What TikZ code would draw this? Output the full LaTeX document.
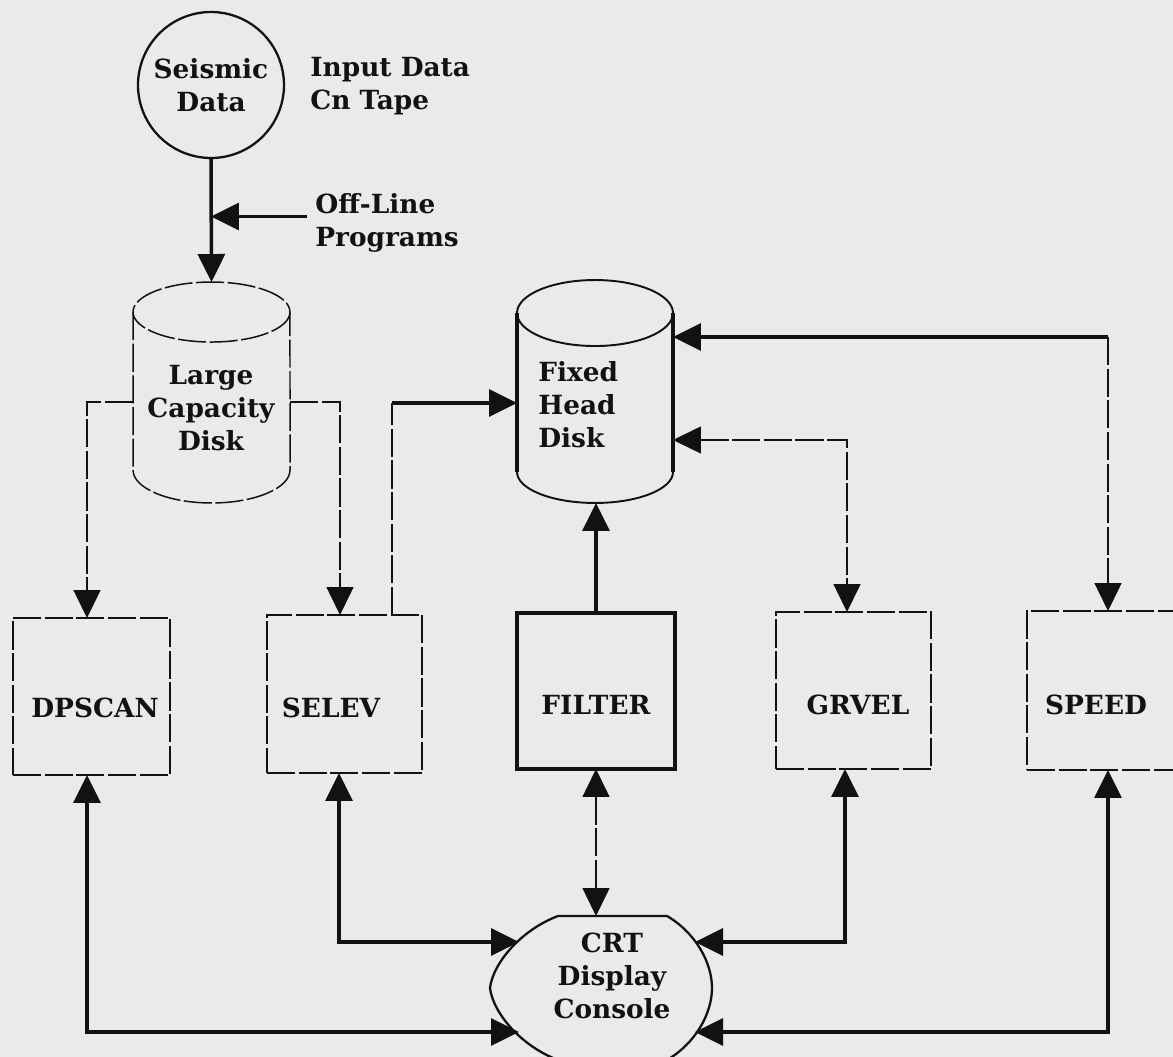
\documentclass[tikz,border=0pt]{standalone}
\usepackage{fontspec}
\setmainfont{DejaVu Serif}
\usetikzlibrary{arrows.meta,calc}
\definecolor{paper}{RGB}{234,234,232}
\definecolor{ink}{RGB}{18,18,18}
\begin{document}
\begin{tikzpicture}[x=0.02cm,y=-0.02cm,
  font=\bfseries\fontsize{15}{18.8}\selectfont,
  tip/.style={-{Triangle[length=5.6mm,width=5.4mm]}},
  bitip/.style={{Triangle[length=5.6mm,width=5.4mm]}-{Triangle[length=5.6mm,width=5.4mm]}},
  solidln/.style={draw=ink,line width=2pt},
  thinln/.style={draw=ink,line width=1.1pt},
  faintln/.style={draw=ink,line width=0.85pt,dash pattern=on 16pt off 2pt},
  blk/.style={inner sep=0pt,outer sep=0pt,draw=none},
  lbl/.style={text=ink,align=center,inner sep=0pt},
  boxlbl/.style={text=ink,font=\bfseries\fontsize{15}{18}\selectfont,inner sep=0pt},
  faintbox/.style={draw=ink,line width=0.85pt,dash pattern=on 16pt off 2pt,inner sep=0pt,outer sep=0pt},
  solidbox/.style={draw=ink,line width=2pt,inner sep=0pt,outer sep=0pt},
]
\useasboundingbox (0,0) rectangle (1173,1057);
\clip (0,0) rectangle (1173,1057);
\fill[paper] (0,0) rectangle (1173,1057);

% ---- top: seismic data ----
\node[circle,draw=ink,line width=1.3pt,minimum size=2.92cm,lbl] (sd) at (211,85) {Seismic\\Data};
\node[lbl,anchor=west,align=left] (inp) at (310,86) {Input Data\\Cn Tape};
\node[lbl,anchor=west,align=left] (off) at (315,223) {Off-Line\\Programs};

% ---- cylinders ----
\node[blk,minimum width=3.14cm,minimum height=4.42cm] (lcd) at (211.5,392.5) {};
\draw[faintln] ($(lcd.north west)+(0,30)$) -- ($(lcd.south west)+(0,-33)$)
  arc[start angle=180,end angle=0,x radius=78.5,y radius=33] -- ($(lcd.north east)+(0,30)$);
\draw[faintln] ($(lcd.north)+(0,30)$) ellipse[x radius=78.5,y radius=30];
\node[lbl] (lcdt) at (211,408) {Large\\Capacity\\Disk};

\node[blk,minimum width=3.12cm,minimum height=4.46cm] (fhd) at (595,391.5) {};
\draw[solidln] ($(fhd.north west)+(0,33)$) -- ($(fhd.south west)+(0,-31)$);
\draw[solidln] ($(fhd.north east)+(0,33)$) -- ($(fhd.south east)+(0,-31)$);
\draw[thinln] ($(fhd.south west)+(0,-31)$) arc[start angle=180,end angle=0,x radius=78,y radius=31];
\draw[thinln] ($(fhd.north)+(0,33)$) ellipse[x radius=78,y radius=33];
\node[lbl,anchor=west,align=left] (fhdt) at (538,405) {Fixed\\Head\\Disk};

% ---- program boxes ----
\node[faintbox,minimum width=3.14cm,minimum height=3.14cm] (dp) at (91.5,696.5) {};
\node[boxlbl] (dpt) at (95,708) {DPSCAN};
\node[faintbox,minimum width=3.10cm,minimum height=3.16cm] (se) at (344.5,694) {};
\node[boxlbl] (set) at (331,708) {SELEV};
\node[solidbox,minimum width=3.16cm,minimum height=3.12cm] (fi) at (596,691) {};
\node[boxlbl] (fit) at (596,705) {FILTER};
\node[faintbox,minimum width=3.10cm,minimum height=3.14cm] (gr) at (853.5,690.5) {};
\node[boxlbl] (grt) at (858,705) {GRVEL};
\node[faintbox,minimum width=3.16cm,minimum height=3.18cm] (sp) at (1106,690.5) {};
\node[boxlbl] (spt) at (1096,705) {SPEED};

% ---- CRT console ----
\node[blk,minimum width=4.44cm,minimum height=2.88cm] (crt) at (601,988) {};
\draw[ink,line width=1.3pt,shift={(crt.center)}]
  (-43,-72) -- (66,-72) .. controls (95,-55) and (111,-25) .. (111,0)
  .. controls (111,25) and (95,55) .. (66,72) -- (-43,72)
  .. controls (-80,58) and (-108,25) .. (-111,0)
  .. controls (-108,-25) and (-80,-58) .. cycle;
\node[lbl] (crtt) at (612,976) {CRT\\Display\\Console};
\coordinate (cUL) at ($(crt.center)+(-82,-46)$);
\coordinate (cLL) at ($(crt.center)+(-82,44)$);
\coordinate (cUR) at ($(crt.center)+(94,-46)$);
\coordinate (cLR) at ($(crt.center)+(94,44)$);

% ---- connectors ----
\draw[solidln,tip] (sd.south) -- (lcd.north);
\draw[solidln,tip] ([xshift=-0.16cm,yshift=0.13cm]off.west) coordinate (o1) -- (o1 -| sd.south);

\draw[faintln,tip] ([yshift=-0.19cm]lcd.west) -| ([xshift=-0.09cm]dp.north);
\draw[faintln,tip] ([yshift=-0.19cm]lcd.east) -| ([xshift=-0.09cm]se.north);

\coordinate (s1) at ([xshift=0.95cm]se.north);
\coordinate (f1) at ([yshift=-0.23cm]fhd.west);
\draw[faintln] (s1) -- (s1 |- f1);
\draw[solidln,tip] (s1 |- f1) -- (f1);

\draw[solidln,tip] (fi.north) -- (fi.north |- fhd.south);

\draw[faintln,bitip] ([yshift=-0.97cm]fhd.east) -| ([xshift=-0.13cm]gr.north);

\coordinate (f2) at ([yshift=1.09cm]fhd.east);
\coordinate (p1) at ([xshift=0.04cm]sp.north);
\draw[solidln,tip] (f2 -| p1) -- (f2);
\draw[faintln,tip] (f2 -| p1) -- (p1);

\draw[faintln,bitip] (fi.south) -- (fi.south |- crt.north);

\draw[solidln,bitip] ([xshift=-0.09cm]dp.south) |- (cLL);
\draw[solidln,bitip] ([xshift=-0.11cm]se.south) |- (cUL);
\draw[solidln,bitip] ([xshift=-0.17cm]gr.south) |- (cUR);
\draw[solidln,bitip] ([xshift=0.04cm]sp.south) |- (cLR);
\end{tikzpicture}
\end{document}
